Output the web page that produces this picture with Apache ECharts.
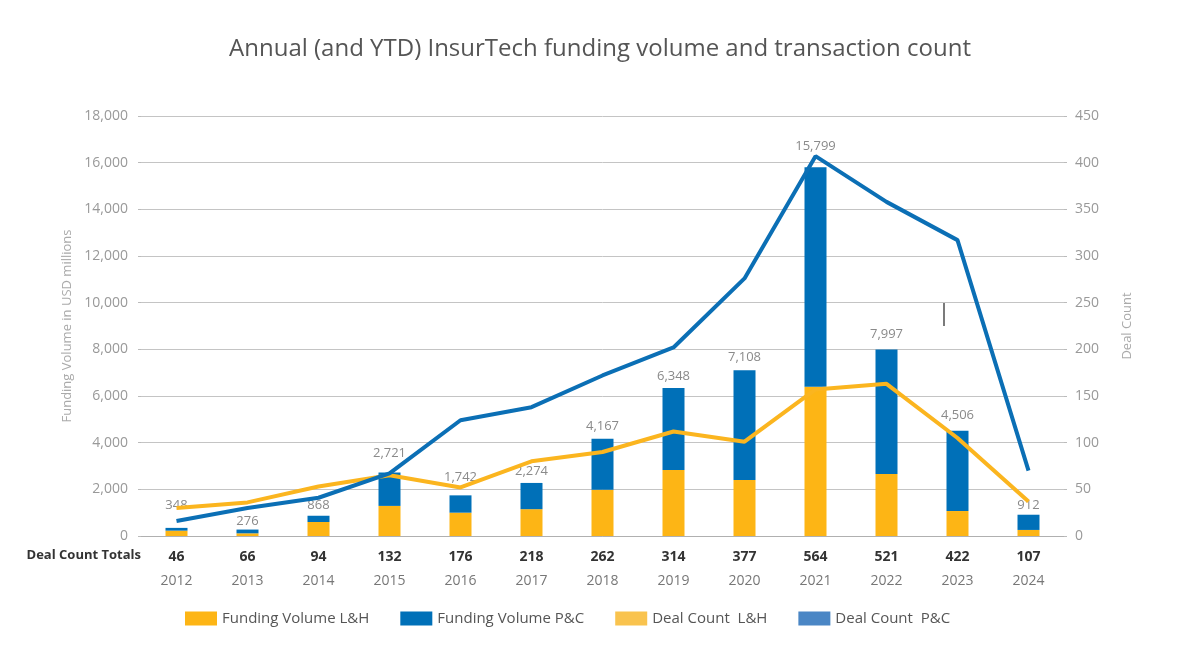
<!DOCTYPE html>
<html>
<head>
<meta charset="utf-8">
<script src="https://cdn.jsdelivr.net/npm/echarts@6/dist/echarts.min.js"></script>
<style>
html,body{margin:0;padding:0;background:#fff;}
#chart{width:1200px;height:664px;}
</style>
</head>
<body>
<div id="chart"></div>
<script>
// ---- data ----
const years = ['2012','2013','2014','2015','2016','2017','2018','2019','2020','2021','2022','2023','2024'];
const fundingLH = [230, 115, 600, 1290, 1000, 1150, 1980, 2830, 2400, 6400, 2660, 1070, 260];
const fundingPC = [118, 161, 268, 1431, 742, 1124, 2187, 3518, 4708, 9399, 5337, 3436, 652];
const fundingTotals = [348, 276, 868, 2721, 1742, 2274, 4167, 6348, 7108, 15799, 7997, 4506, 912];
const dealLH = [30, 36, 53, 65, 52, 80, 90, 112, 101, 157, 163, 105, 37];
const dealPC = [16, 30, 41, 67, 124, 138, 172, 202, 276, 407, 358, 317, 70];
const dealTotals = [46, 66, 94, 132, 176, 218, 262, 314, 377, 564, 521, 422, 107];
const leftTicks = {min: 0, max: 18000, interval: 2000};
const rightTicks = {min: 0, max: 450, interval: 50};

// label spacing above each bar (style only)
const labelGap = [16, 2, 4, 13, 12, 5, 6, 5, 6, 15, 9, 9, 3];

const FONT = '"Open Sans", Lato, sans-serif';
const YELLOW = '#FDB515';
const BLUE = '#0070B8';
const fmt = v => Number(v).toLocaleString('en-US');

const chart = echarts.init(document.getElementById('chart'), null, {renderer: 'canvas'});
chart.setOption({
  animation: false,
  backgroundColor: '#ffffff',
  textStyle: {fontFamily: FONT},
  title: {
    text: 'Annual (and YTD) InsurTech funding volume and transaction count',
    left: 'center', top: 32,
    textStyle: {fontFamily: FONT, fontSize: 24, fontWeight: 'normal', color: '#555'}
  },
  grid: {left: 141, right: 136, top: 116, bottom: 128, containLabel: false},
  legend: {
    left: 180, top: 606,
    itemWidth: 32, itemHeight: 14, itemGap: 31,
    icon: 'rect',
    textStyle: {fontFamily: FONT, fontSize: 15, color: '#555'},
    data: [
      {name: 'Funding Volume L&H'},
      {name: 'Funding Volume P&C'},
      {name: 'Deal Count  L&H', itemStyle: {color: '#F9C34E'}},
      {name: 'Deal Count  P&C', itemStyle: {color: '#4A86C5'}}
    ]
  },
  xAxis: {
    type: 'category',
    data: years,
    axisLine: {lineStyle: {color: '#b0b0b0', width: 1}},
    axisTick: {show: false},
    axisLabel: {
      margin: 9,
      formatter: (v, i) => '{c|' + dealTotals[i] + '}\n{y|' + v + '}',
      rich: {
        c: {fontFamily: FONT, fontSize: 14, fontWeight: 'bold', color: '#333', lineHeight: 24},
        y: {fontFamily: FONT, fontSize: 14, color: '#777', lineHeight: 24}
      }
    }
  },
  yAxis: [
    {
      type: 'value',
      min: leftTicks.min, max: leftTicks.max, interval: leftTicks.interval,
      name: 'Funding Volume in USD millions',
      nameLocation: 'middle', nameGap: 54, nameRotate: 90,
      nameTextStyle: {fontFamily: FONT, fontSize: 13, color: '#aaa'},
      axisLine: {show: false},
      axisTick: {show: true, length: 3, lineStyle: {color: '#bbb'}},
      axisLabel: {margin: 13, fontFamily: FONT, fontSize: 14, color: '#999', formatter: fmt},
      splitLine: {lineStyle: {color: '#c4c4c4', width: 1}}
    },
    {
      type: 'value',
      min: rightTicks.min, max: rightTicks.max, interval: rightTicks.interval,
      name: 'Deal Count',
      nameLocation: 'middle', nameGap: 57, nameRotate: 90,
      nameTextStyle: {fontFamily: FONT, fontSize: 13, color: '#aaa'},
      axisLine: {show: false},
      axisTick: {show: true, length: 3, lineStyle: {color: '#bbb'}},
      axisLabel: {margin: 11, fontFamily: FONT, fontSize: 14, color: '#999'},
      splitLine: {show: false}
    }
  ],
  series: [
    {
      name: 'Funding Volume L&H', type: 'bar', stack: 'fv', barWidth: 22,
      itemStyle: {color: YELLOW},
      data: fundingLH
    },
    {
      name: 'Funding Volume P&C', type: 'bar', stack: 'fv', barWidth: 22,
      itemStyle: {color: BLUE},
      label: {
        show: true, position: 'top', distance: 6,
        fontFamily: FONT, fontSize: 13, color: '#8a8a8a',
        formatter: p => fmt(fundingTotals[p.dataIndex])
      },
      data: fundingPC.map((v, i) => ({value: v, label: {distance: labelGap[i]}}))
    },
    {
      name: 'Deal Count  L&H', type: 'line', yAxisIndex: 1,
      showSymbol: false, symbol: 'none',
      itemStyle: {color: '#F9C34E'},
      lineStyle: {color: '#FBB51F', width: 4},
      data: dealLH, z: 5
    },
    {
      name: 'Deal Count  P&C', type: 'line', yAxisIndex: 1,
      showSymbol: false, symbol: 'none',
      itemStyle: {color: '#4A86C5'},
      lineStyle: {color: '#0B6FB5', width: 4},
      data: dealPC, z: 6
    }
  ],
  graphic: [
    {
      type: 'text', right: 1200 - 141, top: 549,
      style: {text: 'Deal Count Totals', fontFamily: FONT, fontSize: 13, fontWeight: 'bold', fill: '#333', textAlign: 'right'}
    },
    {
      type: 'line', shape: {x1: 944, y1: 302, x2: 944, y2: 326},
      style: {stroke: '#222', lineWidth: 1.2}
    }
  ]
});
</script>
</body>
</html>
